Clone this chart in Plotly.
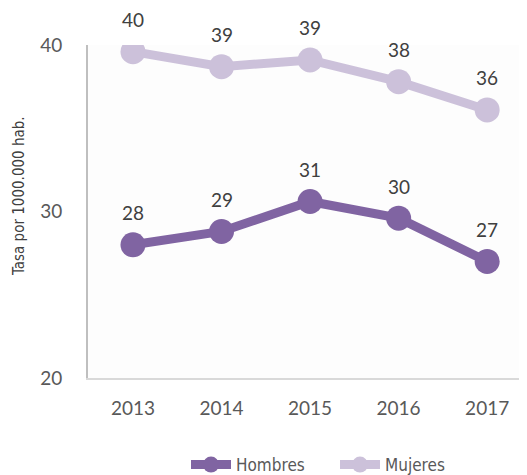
import plotly.graph_objects as go

years = ["2013", "2014", "2015", "2016", "2017"]
hombres = [28.0, 28.8, 30.6, 29.6, 27.0]
mujeres = [39.6, 38.7, 39.1, 37.8, 36.1]
y_ticks = [20, 30, 40]

c_h = "#8064A2"
c_m = "#CCC1DA"

fig = go.Figure()
fig.add_trace(go.Scatter(x=years, y=hombres, name="Hombres", mode="lines+markers",
                         line=dict(color=c_h, width=9), marker=dict(size=25, color=c_h)))
fig.add_trace(go.Scatter(x=years, y=mujeres, name="Mujeres", mode="lines+markers",
                         line=dict(color=c_m, width=9), marker=dict(size=25, color=c_m)))

for series in (hombres, mujeres):
    for i, y in enumerate(series):
        fig.add_annotation(x=i, y=y, text=f"{y:.0f}", showarrow=False, yshift=32,
                           font=dict(family="Lato", size=19, color="#404040"))

fig.add_annotation(xref="paper", yref="paper", x=(11 - 80) / 439, y=(370 - 188) / 333,
                   xanchor="center", yanchor="middle",
                   text="Tasa por 1000.000 hab.", textangle=-90, showarrow=False,
                   font=dict(family="Liberation Sans Narrow, DejaVu Sans Condensed, Liberation Sans",
                             size=15, color="#404040"))

fig.update_layout(
    width=519, height=467,
    margin=dict(l=80, r=0, t=37, b=97),
    paper_bgcolor="white", plot_bgcolor="#FDFDFD",
    showlegend=True,
    legend=dict(orientation="h", xref="paper", x=(178 - 80) / 439, xanchor="left",
                yref="container", y=10 / 467, yanchor="middle",
                font=dict(family="Liberation Sans Narrow, DejaVu Sans Condensed, Liberation Sans",
                          size=17, color="#595959"),
                itemwidth=40, entrywidth=94, tracegroupgap=0),
    xaxis=dict(type="category", range=[-0.508, 4.45], showgrid=False, zeroline=False,
               showline=True, linecolor="#D9D9D9", linewidth=2, ticks="",
               ticklabelstandoff=12,
               tickfont=dict(family="Lato", size=19, color="#595959")),
    yaxis=dict(range=[20, 40], tickvals=y_ticks, showgrid=False, zeroline=False,
               showline=True, linecolor="#BFBFBF", linewidth=2, ticks="",
               ticklabelstandoff=20,
               tickfont=dict(family="Lato", size=19, color="#595959")),
)

fig.write_html("out.html")
